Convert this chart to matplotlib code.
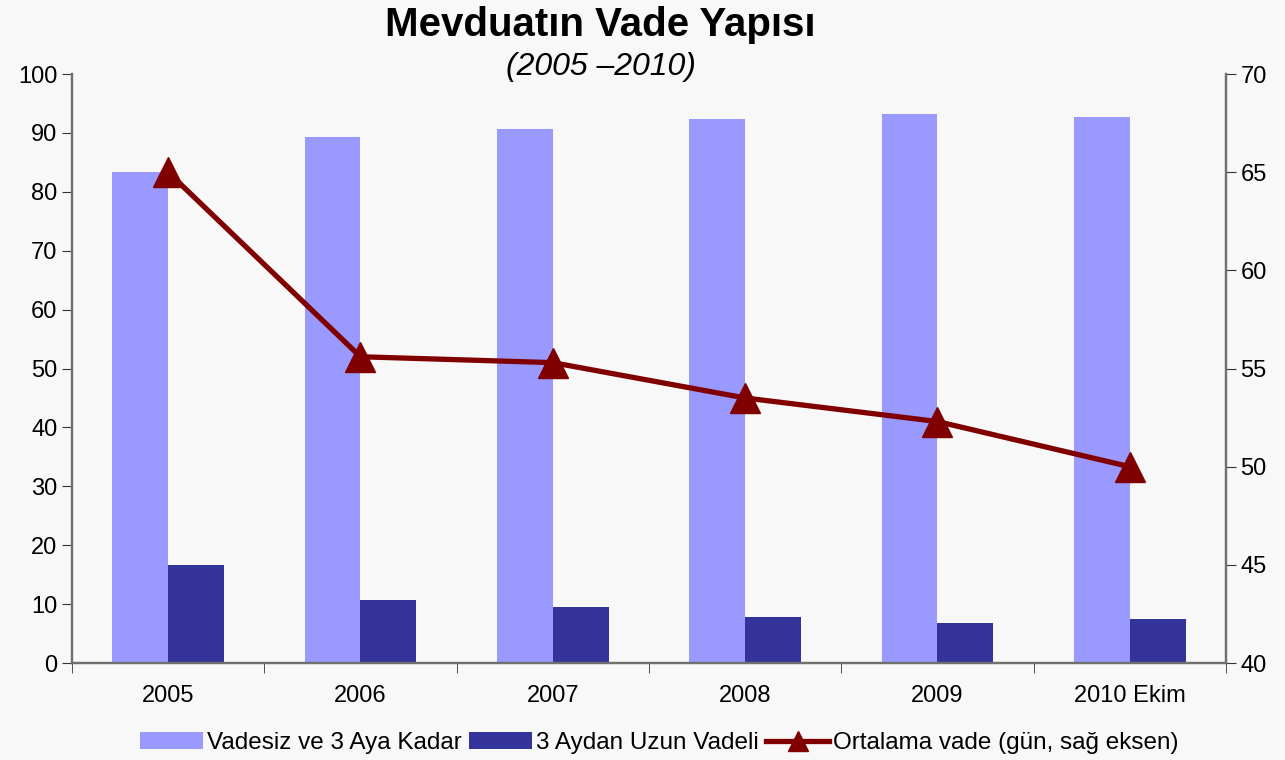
import numpy as np
import matplotlib.pyplot as plt

plt.rcParams['font.family'] = ['Liberation Sans', 'DejaVu Sans']

categories = ["2005", "2006", "2007", "2008", "2009", "2010 Ekim"]
short_term = [83.4, 89.3, 90.7, 92.4, 93.2, 92.7]
long_term = [16.6, 10.7, 9.5, 7.8, 6.8, 7.5]
avg_maturity = [65.0, 55.6, 55.3, 53.5, 52.3, 50.0]

bg = "#f8f8f8"
fig = plt.figure(figsize=(12.85, 7.6), dpi=100, facecolor=bg)
ax = fig.add_axes([0.056, 0.1276, 0.898, 0.775], facecolor=bg)

x = np.arange(len(categories))
w = 0.29
b1 = ax.bar(x - w / 2, short_term, w, color="#9999ff", label="Vadesiz ve 3 Aya Kadar")
b2 = ax.bar(x + w / 2, long_term, w, color="#333399", label="3 Aydan Uzun Vadeli")

ax.set_xlim(-0.5, len(categories) - 0.5)
ax.set_ylim(0, 100)
ax.set_yticks(range(0, 101, 10))
ax.set_xticks(x)
ax.set_xticklabels(categories)
ax.set_xticks(np.arange(-0.5, len(categories), 1), minor=True)
ax.tick_params(axis="x", which="major", length=0, pad=16, labelsize=17)
ax.tick_params(axis="x", which="minor", length=7, direction="out", color="#333333")
ax.tick_params(axis="y", length=7, labelsize=17, color="#333333")

ax2 = ax.twinx()
line, = ax2.plot(x, avg_maturity, color="#800000", lw=3.8, marker="^",
                 markersize=22, label="Ortalama vade (gün, sağ eksen)")
ax2.set_ylim(40, 70)
ax2.set_yticks(range(40, 71, 5))
ax2.tick_params(axis="y", length=7, labelsize=17, color="#333333")

for a in (ax, ax2):
    a.spines["top"].set_visible(False)
    for s in ("left", "right", "bottom"):
        a.spines[s].set_color("#707070")
        a.spines[s].set_linewidth(1.6)

fig.text(0.467, 0.967, "Mevduatın Vade Yapısı", ha="center", va="center",
         fontsize=29, fontweight="bold")
fig.text(0.468, 0.912, "(2005 –2010)", ha="center", va="center",
         fontsize=23, fontstyle="italic")

fig.legend(handles=[b1, b2, line], loc="center", bbox_to_anchor=(0.513, 0.022),
           ncol=3, frameon=False, fontsize=17.5, handlelength=2.6,
           handletextpad=0.15, columnspacing=0.3, markerscale=0.65)

fig.savefig("out.png", dpi=100, facecolor=bg)
